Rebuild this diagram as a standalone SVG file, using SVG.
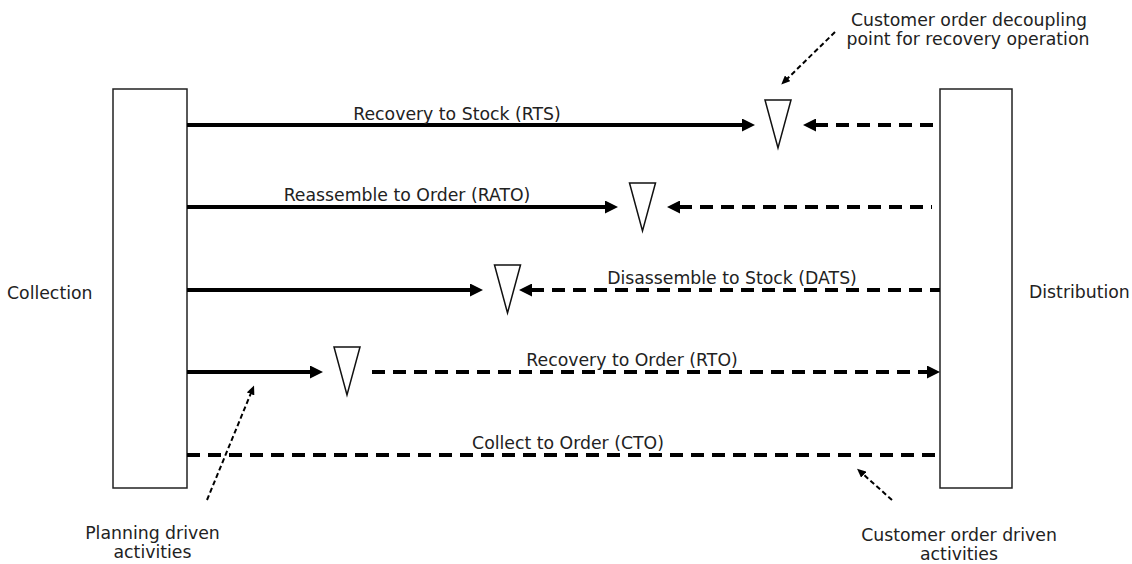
<svg xmlns="http://www.w3.org/2000/svg" width="1132" height="564" viewBox="0 0 1132 564">
  <style>
    text { font-family: "DejaVu Sans", "Liberation Sans", sans-serif; font-size: 17.3px; fill: #222; }
    .mid { text-anchor: middle; }
    .box { fill: #fff; stroke: #222; stroke-width: 1.5; }
    .codp { fill: #fff; stroke: #111; stroke-width: 1.5; stroke-linejoin: miter; }
    .flow { stroke: #000; stroke-width: 4; fill: none; }
    .push { marker-end: url(#arrow); }
    .pull { stroke-dasharray: 13 8; }
    .pull-left { marker-start: url(#arrow); }
    .note { stroke: #000; stroke-width: 2; stroke-dasharray: 5 3; fill: none; marker-end: url(#tip); }
  </style>
  <defs>
    <marker id="arrow" viewBox="0 0 13 13" refX="1" refY="6.5" markerWidth="13" markerHeight="13" markerUnits="userSpaceOnUse" orient="auto-start-reverse">
      <path d="M0,0 L13,6.5 L0,13 Z" fill="#000"/>
    </marker>
    <marker id="tip" viewBox="0 0 9 8" refX="1" refY="4" markerWidth="9" markerHeight="8" markerUnits="userSpaceOnUse" orient="auto">
      <path d="M0,0 L9,4 L0,8 Z" fill="#000"/>
    </marker>
    <!-- decoupling point marker: open downward triangle -->
    <path id="codp-shape" d="M0,0 L26,0 L13,48 Z"/>
  </defs>

  <!-- end nodes -->
  <g id="collection">
    <rect class="box" x="113" y="89" width="74" height="399"/>
    <text x="7" y="298.5">Collection</text>
  </g>
  <g id="distribution">
    <rect class="box" x="940" y="89" width="72" height="399"/>
    <text x="1029" y="297.5">Distribution</text>
  </g>

  <!-- decoupling points -->
  <g id="codp-rts"><use href="#codp-shape" class="codp" x="765" y="100"/></g>
  <g id="codp-rato"><use href="#codp-shape" class="codp" x="629.5" y="183"/></g>
  <g id="codp-dats"><use href="#codp-shape" class="codp" x="494.5" y="265"/></g>
  <g id="codp-rto"><use href="#codp-shape" class="codp" x="334" y="347"/></g>

  <!-- flows: solid = planning driven, dashed = customer order driven -->
  <g id="connectors">
    <line class="flow push" x1="187" y1="125" x2="743" y2="125"/>
    <line class="flow pull pull-left" x1="815" y1="125" x2="940" y2="125"/>

    <line class="flow push" x1="187" y1="207" x2="606" y2="207"/>
    <line class="flow pull pull-left" x1="679" y1="207" x2="932" y2="207"/>

    <line class="flow push" x1="187" y1="290" x2="471" y2="290"/>
    <line class="flow pull pull-left" x1="531" y1="290" x2="940" y2="290"/>

    <line class="flow push" x1="187" y1="372" x2="311" y2="372"/>
    <line class="flow pull push" x1="372" y1="372" x2="928" y2="372"/>

    <line class="flow pull" x1="187" y1="455" x2="940" y2="455"/>

    <!-- annotation pointers -->
    <line class="note" x1="835" y1="32" x2="787" y2="79"/>
    <line class="note" x1="207" y1="500" x2="251" y2="393"/>
    <line class="note" x1="892" y1="500" x2="863" y2="474"/>
  </g>

  <!-- flow labels -->
  <g id="labels">
    <text class="mid" x="457" y="120">Recovery to Stock (RTS)</text>
    <text class="mid" x="407" y="201">Reassemble to Order (RATO)</text>
    <text class="mid" x="732" y="284">Disassemble to Stock (DATS)</text>
    <text class="mid" x="632" y="366">Recovery to Order (RTO)</text>
    <text class="mid" x="568" y="449">Collect to Order (CTO)</text>
  </g>

  <g id="note-codp">
    <text class="mid" x="969" y="25.5">Customer order decoupling</text>
    <text class="mid" x="968" y="44.5">point for recovery operation</text>
  </g>
  <g id="note-planning">
    <text class="mid" x="152.5" y="538.5">Planning driven</text>
    <text class="mid" x="152.5" y="558">activities</text>
  </g>
  <g id="note-customer">
    <text class="mid" x="959" y="540.5">Customer order driven</text>
    <text class="mid" x="959" y="560">activities</text>
  </g>
</svg>
